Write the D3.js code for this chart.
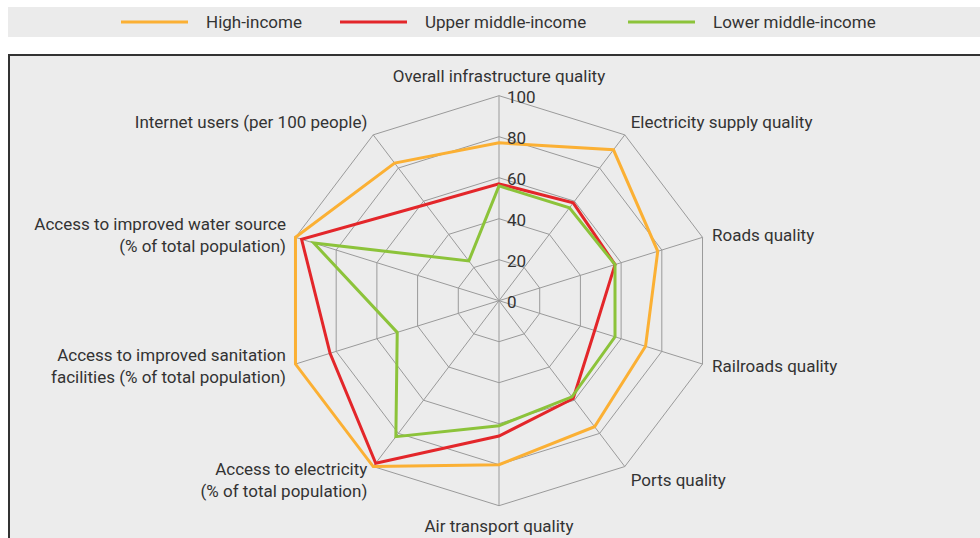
<!DOCTYPE html>
<html>
<head>
<meta charset="utf-8">
<script src="https://cdn.jsdelivr.net/npm/d3@7"></script>
<style>
  body { margin: 0; background: #fff; }
  svg { display: block; font-family: Roboto, "Liberation Sans", sans-serif; }
</style>
</head>
<body>
<div id="chart"></div>
<script>
// axes of the radar, clockwise from top
var axes = [
  ["Overall infrastructure quality"],
  ["Electricity supply quality"],
  ["Roads quality"],
  ["Railroads quality"],
  ["Ports quality"],
  ["Air transport quality"],
  ["Access to electricity", "(% of total population)"],
  ["Access to improved sanitation", "facilities (% of total population)"],
  ["Access to improved water source", "(% of total population)"],
  ["Internet users (per 100 people)"]
];

var seriesNames = ["High-income", "Upper middle-income", "Lower middle-income"];
var highIncome = [77, 91, 78, 72, 76, 80, 100, 100, 100, 83];
var upperMiddle = [57, 59, 57, 47, 59, 66, 98, 83, 97, 58];
var lowerMiddle = [56, 56, 57, 57, 58, 61, 82, 50, 91, 24];
var ticks = [0, 20, 40, 60, 80, 100];

var colors = ["#fbb034", "#e3262a", "#8cc33a"];
var series = [highIncome, upperMiddle, lowerMiddle];

var width = 980, height = 538;
var cx = 499, cy = 300.7;
var fontSize = "17px";

var svg = d3.select("#chart").append("svg")
    .attr("width", width)
    .attr("height", height);

// legend band
svg.append("rect")
    .attr("x", 8).attr("y", 7)
    .attr("width", width - 8).attr("height", 30)
    .style("fill", "#ebebeb");

var legendX = [121, 340, 628];
var legend = svg.selectAll(".legend")
    .data(seriesNames)
    .enter().append("g")
    .attr("transform", function(d, i) { return "translate(" + legendX[i] + ",22)"; });

legend.append("line")
    .attr("x1", 0).attr("x2", 67)
    .style("stroke", function(d, i) { return colors[i]; })
    .style("stroke-width", 3);

legend.append("text")
    .attr("x", 85)
    .attr("dy", "0.35em")
    .style("font-size", fontSize)
    .style("fill", "#333")
    .text(function(d) { return d; });

// chart panel
svg.append("rect")
    .attr("x", 9).attr("y", 55)
    .attr("width", width + 10).attr("height", height)
    .style("fill", "#ececec")
    .style("stroke", "#333")
    .style("stroke-width", 2);

var rx = d3.scaleLinear().domain([0, 100]).range([0, 214]);
var ry = d3.scaleLinear().domain([0, 100]).range([0, 205]);
var angle = d3.scaleLinear().domain([0, axes.length]).range([0, 2 * Math.PI]);

function px(i, v) { return cx + Math.sin(angle(i)) * rx(v); }
function py(i, v) { return cy - Math.cos(angle(i)) * ry(v); }

var g = svg.append("g");

// rings
ticks.slice(1).forEach(function(t) {
  var pts = axes.map(function(a, i) { return [px(i, t), py(i, t)]; });
  g.append("path")
      .attr("d", d3.line().curve(d3.curveLinearClosed)(pts))
      .style("fill", "none")
      .style("stroke", "#9a9a9a")
      .style("stroke-width", 1);
});

// spokes
g.selectAll(".spoke")
    .data(axes)
    .enter().append("line")
    .attr("x1", cx).attr("y1", cy)
    .attr("x2", function(d, i) { return px(i, 100); })
    .attr("y2", function(d, i) { return py(i, 100); })
    .style("stroke", "#9a9a9a")
    .style("stroke-width", 1);

// series polygons
series.forEach(function(s, k) {
  var pts = s.map(function(v, i) { return [px(i, v), py(i, v)]; });
  g.append("path")
      .attr("d", d3.line().curve(d3.curveLinearClosed)(pts))
      .style("fill", "none")
      .style("stroke", colors[k])
      .style("stroke-width", 3)
      .style("stroke-linejoin", "miter");
});

// tick labels
g.selectAll(".tick")
    .data(ticks)
    .enter().append("text")
    .attr("x", cx + 8)
    .attr("y", function(d) { return py(0, d) + 1; })
    .attr("dy", "0.35em")
    .style("font-size", fontSize)
    .style("fill", "#333")
    .text(function(d) { return d; });

// axis labels
axes.forEach(function(lines, i) {
  var a = angle(i);
  var s = Math.sin(a), c = Math.cos(a);
  var x = px(i, 100) + s * 10;
  var y = py(i, 100) - c * Math.abs(c) * 20;
  var anchor = Math.abs(s) < 0.01 ? "middle" : (s > 0 ? "start" : "end");
  var lh = 22;
  var t = g.append("text")
      .attr("text-anchor", anchor)
      .style("font-size", fontSize)
      .style("fill", "#333");
  lines.forEach(function(l, j) {
    t.append("tspan")
        .attr("x", x)
        .attr("y", y + (j - (lines.length - 1) / 2) * lh)
        .attr("dy", "0.35em")
        .text(l);
  });
});
</script>
</body>
</html>
